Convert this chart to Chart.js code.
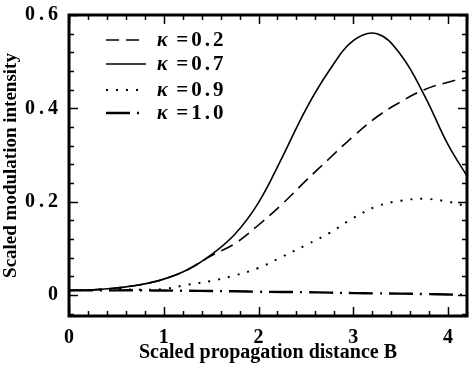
<!DOCTYPE html>
<html>
<head>
<meta charset="utf-8">
<script src="https://cdn.jsdelivr.net/npm/chart.js@4.4.1/dist/chart.umd.min.js"></script>
<style>
  html, body { margin: 0; padding: 0; background: #fff; }
  #wrap { width: 470px; height: 365px; }
</style>
</head>
<body>
<div id="wrap"><canvas id="line-chart" width="470" height="365"></canvas></div>
<script>
// propagation distance B
var distB = [0, 0.25, 0.5, 0.75, 1, 1.25, 1.5, 1.75, 2, 2.25, 2.5, 2.75, 3, 3.25, 3.5, 3.75, 4, 4.2];
var kappa02 = [0.010, 0.011, 0.015, 0.022, 0.034, 0.054, 0.084, 0.110, 0.150, 0.195, 0.245, 0.293, 0.340, 0.382, 0.414, 0.440, 0.456, 0.466];
var kappa07 = [0.010, 0.011, 0.015, 0.022, 0.034, 0.054, 0.086, 0.130, 0.198, 0.295, 0.398, 0.482, 0.545, 0.560, 0.515, 0.428, 0.322, 0.255];
var kappa09 = [0.010, 0.011, 0.013, 0.011, 0.013, 0.022, 0.030, 0.042, 0.058, 0.082, 0.107, 0.133, 0.165, 0.190, 0.202, 0.206, 0.200, 0.190];
var kappa10 = [0.010, 0.010, 0.010, 0.010, 0.0095, 0.009, 0.0085, 0.008, 0.007, 0.0065, 0.006, 0.005, 0.004, 0.0035, 0.003, 0.002, 0.001, 0.000];
var seriesLabels = ["0.2", "0.7", "0.9", "1.0"];
var xTicks = [0, 1, 2, 3, 4];
var yTicks = [0, 0.2, 0.4, 0.6];

var serif = "'Liberation Serif', 'DejaVu Serif', serif";

function pts(ys) {
    return distB.map(function (b, i) { return { x: b, y: ys[i] }; });
}

// frame + inward ticks on all four sides
var frameTicks = {
    id: 'frameTicks',
    afterDraw: function (chart) {
        var ctx = chart.ctx, a = chart.chartArea;
        var xs = chart.scales.x, ys = chart.scales.y;
        ctx.save();
        ctx.strokeStyle = '#000';
        ctx.lineWidth = 1.5;
        for (var i = 0; i <= 21; i++) {
            var v = i * 0.2;
            var px = Math.round(xs.getPixelForValue(v)) + 0.5;
            var len = (i % 5 === 0) ? 9 : 5;
            ctx.beginPath();
            ctx.moveTo(px, a.bottom); ctx.lineTo(px, a.bottom - len);
            ctx.moveTo(px, a.top); ctx.lineTo(px, a.top + len);
            ctx.stroke();
        }
        for (var j = -1; j <= 15; j++) {
            var w = j * 0.04;
            var py = Math.round(ys.getPixelForValue(w)) + 0.5;
            var l2 = (j % 5 === 0) ? 9 : 5;
            ctx.beginPath();
            ctx.moveTo(a.left, py); ctx.lineTo(a.left + l2, py);
            ctx.moveTo(a.right, py); ctx.lineTo(a.right - l2, py);
            ctx.stroke();
        }
        ctx.lineWidth = 3;
        ctx.strokeRect(a.left, a.top, a.right - a.left, a.bottom - a.top);
        ctx.restore();
    }
};

// legend inside the plot, top left
var insideLegend = {
    id: 'insideLegend',
    afterDraw: function (chart) {
        var ctx = chart.ctx;
        var rowY = [40, 64, 90, 113];
        ctx.save();
        chart.data.datasets.forEach(function (ds, i) {
            var y = rowY[i];
            ctx.strokeStyle = '#000';
            ctx.lineWidth = ds.borderWidth;
            ctx.setLineDash(ds.borderDash || []);
            ctx.beginPath();
            ctx.moveTo(106, y); ctx.lineTo(146, y);
            ctx.stroke();
            ctx.setLineDash([]);
            ctx.fillStyle = '#000';
            ctx.textBaseline = 'middle';
            ctx.letterSpacing = '0px';
            ctx.font = 'italic bold 20px ' + serif;
            ctx.fillText('\u03ba', 157, y + 1);
            ctx.letterSpacing = '3px';
            ctx.font = 'bold 21px ' + serif;
            ctx.fillText(' =' + ds.label, 168, y + 1);
        });
        ctx.restore();
    }
};

new Chart(document.getElementById("line-chart"), {
    type: 'line',
    data: {
        datasets: [{
            data: pts(kappa02),
            label: seriesLabels[0],
            borderColor: "#000",
            borderDash: [13, 7],
            borderWidth: 1.6
        }, {
            data: pts(kappa07),
            label: seriesLabels[1],
            borderColor: "#000",
            borderWidth: 1.6
        }, {
            data: pts(kappa09),
            label: seriesLabels[2],
            borderColor: "#000",
            borderDash: [2, 8],
            borderWidth: 2
        }, {
            data: pts(kappa10),
            label: seriesLabels[3],
            borderColor: "#000",
            borderDash: [24, 7, 2, 7],
            borderWidth: 2.4
        }]
    },
    options: {
        responsive: false,
        animation: false,
        devicePixelRatio: 1,
        layout: { padding: { top: 10, right: 3, left: 0, bottom: 0 } },
        elements: {
            point: { radius: 0 },
            line: { fill: false, tension: 0.4 }
        },
        plugins: {
            legend: { display: false },
            title: { display: false },
            tooltip: { enabled: false }
        },
        scales: {
            x: {
                type: 'linear',
                min: 0,
                max: 4.2,
                grid: { display: false },
                border: { display: false },
                afterBuildTicks: function (s) { s.ticks = xTicks.map(function (v) { return { value: v }; }); },
                afterFit: function (s) { s.height = 49; },
                ticks: {
                    color: '#000',
                    padding: 2,
                    maxRotation: 0,
                    font: { family: serif, size: 20, weight: 'bold' }
                },
                title: {
                    display: true,
                    text: 'Scaled propagation distance B',
                    color: '#000',
                    padding: { top: 0, bottom: 0 },
                    font: { family: serif, size: 20, weight: 'bold' }
                }
            },
            y: {
                type: 'linear',
                min: -0.045,
                max: 0.6,
                grid: { display: false },
                border: { display: false },
                afterBuildTicks: function (s) { s.ticks = yTicks.map(function (v) { return { value: v }; }); },
                afterFit: function (s) { s.width = 69; },
                ticks: {
                    color: '#000',
                    padding: 3,
                    font: { family: serif, size: 20, weight: 'bold' },
                    callback: function (v) { return v === 0 ? '0' : v.toFixed(1).replace('.', '\u2009.\u2009'); }
                },
                title: {
                    display: true,
                    text: 'Scaled modulation intensity',
                    color: '#000',
                    padding: { top: 0, bottom: 0 },
                    font: { family: serif, size: 19, weight: 'bold' }
                }
            }
        }
    },
    plugins: [frameTicks, insideLegend]
});
</script>
</body>
</html>
